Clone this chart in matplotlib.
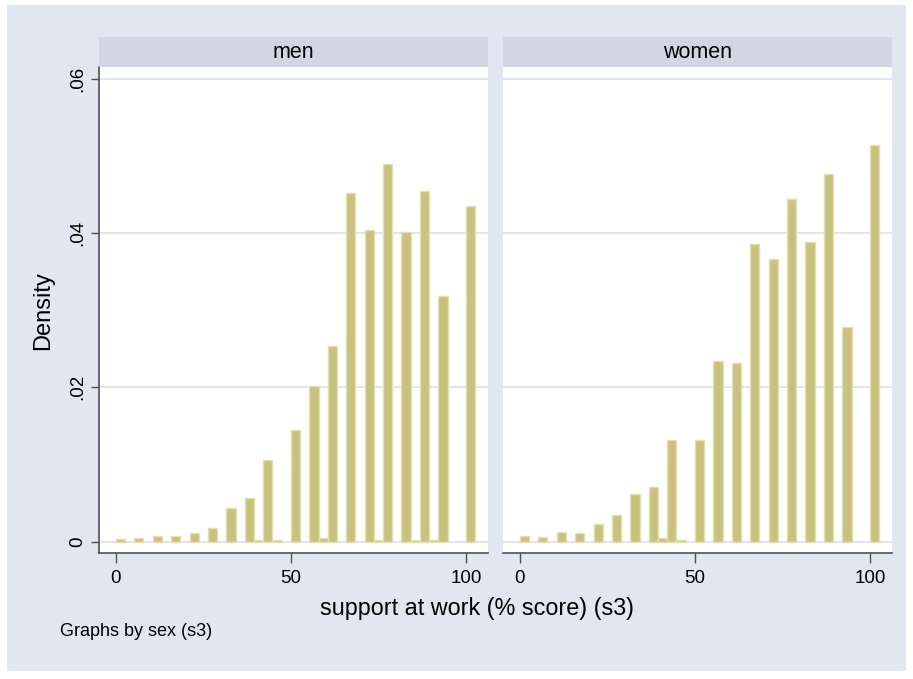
import numpy as np
import matplotlib.pyplot as plt
from matplotlib.patches import Rectangle

plt.rcParams['font.family'] = ['Liberation Sans', 'DejaVu Sans']

# histogram bins (width 100/38, starting at 0)
n_bins = 39
bin_w = 100 / 38

# densities per bin
men = [0.00036, 0, 0.00045, 0, 0.0007, 0, 0.0007, 0, 0.0011, 0,
       0.0018, 0, 0.0043, 0, 0.0056, 0.0002, 0.0106, 0.0002, 0, 0.0145,
       0, 0.0202, 0.0004, 0.0253, 0, 0.0452, 0, 0.0404, 0.0002, 0.0490,
       0, 0.0401, 0.0002, 0.0455, 0.0002, 0.0318, 0, 0, 0.0435]
women = [0.0007, 0, 0.0006, 0, 0.0012, 0, 0.0011, 0, 0.0023, 0,
         0.0034, 0, 0.0061, 0, 0.0071, 0.0004, 0.0132, 0.0002, 0, 0.0132,
         0, 0.0234, 0, 0.0232, 0, 0.0386, 0, 0.0367, 0, 0.0445,
         0, 0.0389, 0, 0.0477, 0, 0.0278, 0, 0, 0.0514]

panels = ['men', 'women']
yticks = [0, 0.02, 0.04, 0.06]
yticklabels = ['0', '.02', '.04', '.06']
xticks = [0, 50, 100]

W, H = 913, 679
bg = '#e1e6f0'
strip_c = '#d0d7e3'
grid_c = '#dde3f0'
bar_c = '#c9c27e'
edge_c = '#e4e0b0'
axis_c = '#505050'

fig = plt.figure(figsize=(W / 100, H / 100), dpi=100, facecolor='white')
fig.patches.append(Rectangle((7 / W, 1 - 671 / H), 899 / W, 666 / H,
                             transform=fig.transFigure, facecolor=bg,
                             edgecolor='none', zorder=-10))

edges = np.arange(n_bins) * bin_w
lefts = [99, 503]
for i, (name, vals) in enumerate(zip(panels, [men, women])):
    x0 = lefts[i]
    ax = fig.add_axes([x0 / W, 1 - 553 / H, 389 / W, 486 / H])
    ax.set_facecolor('white')
    v = np.array(vals)
    m = v > 0
    ax.bar(edges[m], v[m], width=bin_w, align='edge', color=bar_c,
           edgecolor=edge_c, linewidth=1.0, zorder=3)
    ax.set_xlim(-4.8, 106.3)
    ax.set_ylim(-0.00149, 0.06156)
    for yt in yticks:
        ax.axhline(yt, color=grid_c, lw=1.3, zorder=1)
    ax.set_xticks(xticks)
    ax.set_xticklabels([str(t) for t in xticks], fontsize=13.5)
    ax.tick_params(axis='x', length=7, width=1, color=axis_c, pad=5)
    for s in ['top', 'right']:
        ax.spines[s].set_visible(False)
    ax.spines['bottom'].set_color(axis_c)
    ax.spines['bottom'].set_linewidth(1.2)
    if i == 0:
        ax.set_yticks(yticks)
        ax.set_yticklabels(yticklabels, fontsize=13.5, rotation=90,
                           va='center')
        ax.tick_params(axis='y', length=6, width=1, color=axis_c, pad=3)
        ax.spines['left'].set_color(axis_c)
        ax.spines['left'].set_linewidth(1.2)
    else:
        ax.set_yticks([])
        ax.spines['left'].set_visible(False)

    # strip title
    sax = fig.add_axes([x0 / W, 1 - 67 / H, 389 / W, 30 / H])
    sax.set_facecolor(strip_c)
    sax.set_xticks([])
    sax.set_yticks([])
    for s in sax.spines.values():
        s.set_visible(False)
    sax.text(0.5, 0.5, name, ha='center', va='center', fontsize=15.5,
             transform=sax.transAxes)

fig.text(43 / W, 1 - 311 / H, 'Density', ha='center', va='center',
         rotation=90, fontsize=17)
fig.text(477 / W, 1 - 608 / H, 'support at work (% score) (s3)',
         ha='center', va='center', fontsize=16.8)
fig.text(60 / W, 1 - 631 / H, 'Graphs by sex (s3)', ha='left',
         va='center', fontsize=13)

fig.savefig('out.png', dpi=100, facecolor='white')
